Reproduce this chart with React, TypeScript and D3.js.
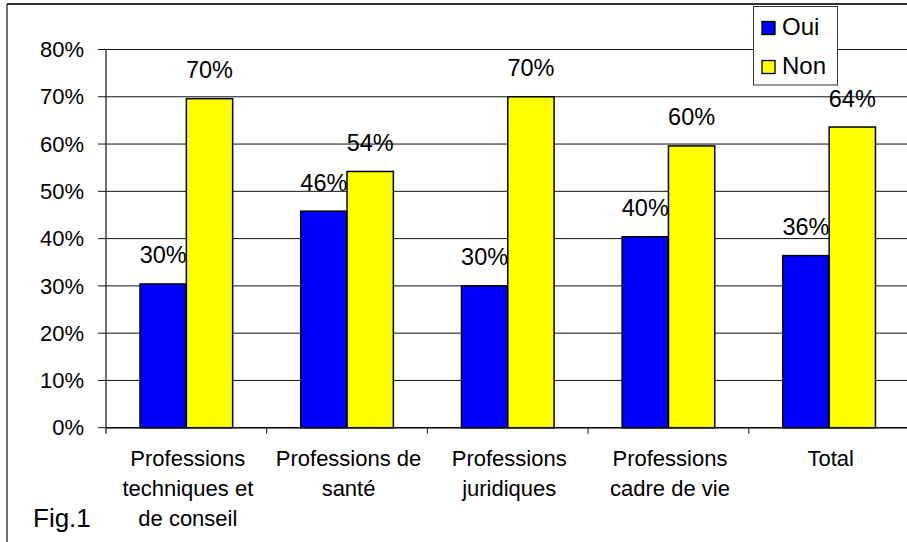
import React from "react";
import * as d3 from "d3";

const categories: string[][] = [
  ["Professions", "techniques et", "de conseil"],
  ["Professions de", "santé"],
  ["Professions", "juridiques"],
  ["Professions", "cadre de vie"],
  ["Total"],
];
const categoryKeys = ["tech", "sante", "jur", "cadre", "total"];
const seriesNames = ["Oui", "Non"];
const ouiValues = [30.4, 45.8, 30.0, 40.4, 36.4];
const nonValues = [69.6, 54.2, 70.0, 59.6, 63.6];
const ouiLabels = ["30%", "46%", "30%", "40%", "36%"];
const nonLabels = ["70%", "54%", "70%", "60%", "64%"];
const yTicks = [0, 10, 20, 30, 40, 50, 60, 70, 80];
const seriesColors = ["#0000FF", "#FFFF00"];

const FONT = "'Liberation Sans', Arial, Helvetica, sans-serif";

export default function App() {
  const W = 907;
  const H = 542;
  const left = 106;
  const right = 909.5;
  const top = 49.5;
  const bottom = 427.7;

  const y = d3.scaleLinear().domain([0, 80]).range([bottom, top]);
  const x0 = d3.scaleBand<string>().domain(categoryKeys).range([left, right]).padding(0);
  const x1 = d3
    .scaleBand<string>()
    .domain(seriesNames)
    .range([0, x0.bandwidth()])
    .paddingInner(0)
    .paddingOuter(0.735);

  const series = [
    { name: "Oui", values: ouiValues, labels: ouiLabels, color: seriesColors[0] },
    { name: "Non", values: nonValues, labels: nonLabels, color: seriesColors[1] },
  ];

  return (
    <svg
      width={W}
      height={H}
      style={{ position: "absolute", left: 0, top: 0, background: "#fff" }}
      fontFamily={FONT}
    >
      {/* outer frame */}
      <line x1={7} y1={4} x2={W} y2={4} stroke="#333" strokeWidth={2} />
      <line x1={7} y1={4} x2={7} y2={H} stroke="#222" strokeWidth={1.3} />

      {/* gridlines */}
      {yTicks.map((t) => (
        <line key={"g" + t} x1={left} x2={right} y1={y(t)} y2={y(t)} stroke="#111" strokeWidth={1} />
      ))}

      {/* y axis */}
      <line x1={left} x2={left} y1={top} y2={bottom + 6} stroke="#111" strokeWidth={1.2} />
      {yTicks.map((t) => (
        <g key={"t" + t}>
          <line x1={left - 8} x2={left} y1={y(t)} y2={y(t)} stroke="#111" strokeWidth={1} />
          <text x={84} y={y(t)} dy="0.35em" textAnchor="end" fontSize={22} fill="#000">
            {t + "%"}
          </text>
        </g>
      ))}

      {/* bars */}
      {series.map((s, si) =>
        categoryKeys.map((c, ci) => {
          const bx = (x0(c) as number) + (x1(s.name) as number);
          const bw = x1.bandwidth();
          const by = y(s.values[ci]);
          return (
            <g key={s.name + c}>
              <rect
                x={bx}
                y={by}
                width={bw}
                height={bottom - by}
                fill={s.color}
                stroke="#000"
                strokeWidth={1.5}
              />
            </g>
          );
        })
      )}

      {/* x axis */}
      <line x1={left} x2={right} y1={bottom} y2={bottom} stroke="#111" strokeWidth={1.5} />
      {categoryKeys.map((c) => (
        <line
          key={"xt" + c}
          x1={(x0(c) as number) + x0.bandwidth()}
          x2={(x0(c) as number) + x0.bandwidth()}
          y1={bottom}
          y2={bottom + 6}
          stroke="#111"
          strokeWidth={1}
        />
      ))}

      {/* data labels */}
      {series.map((s) =>
        categoryKeys.map((c, ci) => {
          const cx = (x0(c) as number) + (x1(s.name) as number) + x1.bandwidth() / 2;
          return (
            <text
              key={"l" + s.name + c}
              x={cx}
              y={y(s.values[ci]) - 20.5}
              textAnchor="middle"
              fontSize={23.5}
              fill="#000"
            >
              {s.labels[ci]}
            </text>
          );
        })
      )}

      {/* category labels */}
      {categoryKeys.map((c, ci) => (
        <text
          key={"c" + c}
          x={(x0(c) as number) + x0.bandwidth() / 2 + 1.5}
          y={466}
          textAnchor="middle"
          fontSize={22}
          fill="#000"
        >
          {categories[ci].map((line, li) => (
            <tspan key={li} x={(x0(c) as number) + x0.bandwidth() / 2 + 1.5} y={466 + li * 30}>
              {line}
            </tspan>
          ))}
        </text>
      ))}

      {/* Fig label */}
      <text x={33} y={527} fontSize={26} fill="#000">
        Fig.1
      </text>

      {/* legend */}
      <g>
        <rect x={753.5} y={6.5} width={84} height={78.5} fill="#fff" stroke="#333" strokeWidth={1} />
        {series.map((s, i) => (
          <g key={"lg" + s.name}>
            <rect
              x={762}
              y={21.5 + i * 39}
              width={13}
              height={13}
              fill={s.color}
              stroke="#000"
              strokeWidth={1.3}
            />
            <text x={782} y={35 + i * 39} fontSize={24} fill="#000">
              {s.name}
            </text>
          </g>
        ))}
      </g>
    </svg>
  );
}
